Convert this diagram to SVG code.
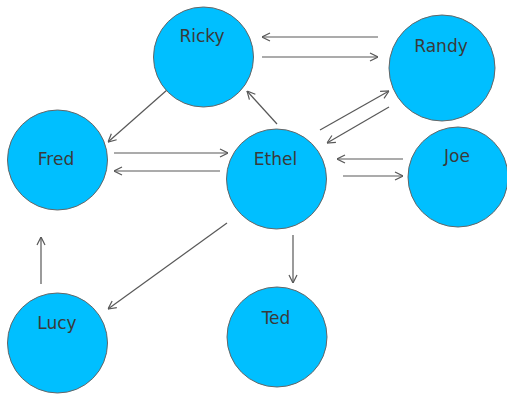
<svg xmlns="http://www.w3.org/2000/svg" width="507" height="394" viewBox="0 0 507 394">
  <style>
    .node circle { fill: #00BFFF; stroke: #666; stroke-width: 1; }
    .node text { font-family: "DejaVu Sans", Verdana, sans-serif; font-size: 17px; fill: #3a3a3a; text-anchor: middle; }
    .edge { stroke: #585858; stroke-width: 1.2; fill: none; marker-end: url(#arrow); }
  </style>
  <defs>
    <marker id="arrow" viewBox="0 0 10 10" refX="10" refY="5" markerWidth="10" markerHeight="10" markerUnits="userSpaceOnUse" orient="auto">
      <path d="M2,1 L10,5 L2,9" fill="none" stroke="#585858" stroke-width="1.2"/>
    </marker>
  </defs>
  <rect width="507" height="394" fill="#fff"/>

  <g id="connectors">
    <line class="edge" x1="378" y1="37" x2="262" y2="37"/>
    <line class="edge" x1="262" y1="57" x2="378" y2="57"/>
    <line class="edge" x1="167" y1="90" x2="108" y2="142"/>
    <line class="edge" x1="277" y1="124" x2="247" y2="91"/>
    <line class="edge" x1="320" y1="130" x2="389" y2="91"/>
    <line class="edge" x1="389" y1="107" x2="327" y2="143"/>
    <line class="edge" x1="114" y1="153" x2="228" y2="153"/>
    <line class="edge" x1="220" y1="171" x2="114" y2="171"/>
    <line class="edge" x1="403" y1="159" x2="337" y2="159"/>
    <line class="edge" x1="343" y1="176" x2="403" y2="176"/>
    <line class="edge" x1="227" y1="223" x2="108" y2="309"/>
    <line class="edge" x1="41" y1="284" x2="41" y2="237"/>
    <line class="edge" x1="293" y1="235" x2="293" y2="283"/>
  </g>

  <g id="ricky" class="node">
    <circle cx="203.5" cy="57" r="50"/>
    <text x="202" y="42">Ricky</text>
  </g>
  <g id="randy" class="node">
    <circle cx="442" cy="68" r="53"/>
    <text x="441" y="52">Randy</text>
  </g>
  <g id="fred" class="node">
    <circle cx="57.5" cy="160" r="50"/>
    <text x="56" y="165">Fred</text>
  </g>
  <g id="ethel" class="node">
    <circle cx="276.5" cy="179" r="50"/>
    <text x="275.5" y="165">Ethel</text>
  </g>
  <g id="joe" class="node">
    <circle cx="458" cy="177" r="50"/>
    <text x="457" y="162">Joe</text>
  </g>
  <g id="lucy" class="node">
    <circle cx="57.5" cy="343" r="50"/>
    <text x="57" y="329">Lucy</text>
  </g>
  <g id="ted" class="node">
    <circle cx="277" cy="337" r="50"/>
    <text x="276" y="324">Ted</text>
  </g>
</svg>
